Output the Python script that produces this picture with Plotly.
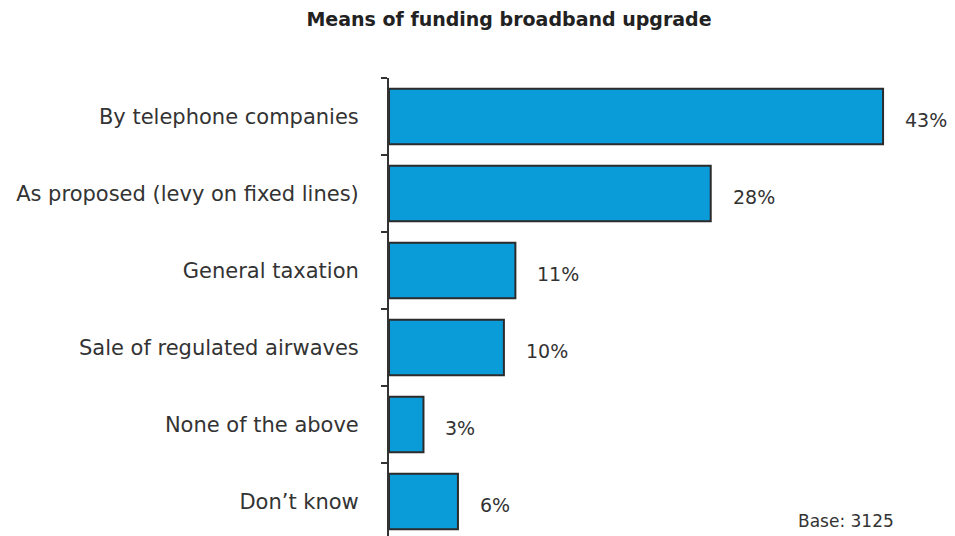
import plotly.graph_objects as go

# Survey responses: preferred means of funding the broadband upgrade
categories = [
    "By telephone companies",
    "As proposed (levy on fixed lines)",
    "General taxation",
    "Sale of regulated airwaves",
    "None of the above",
    "Don\u2019t know",
]
shares = [43, 28, 11, 10, 3, 6]
value_labels = [f"{v}%" for v in shares]
base_note = "Base: 3125"
title_text = "Means of funding broadband upgrade"

FONT = "DejaVu Sans"
TEXT_COLOR = "#333333"
BAR_FILL = "#0A9BD9"
BAR_EDGE = "#2b2b2b"

fig = go.Figure()
fig.add_trace(
    go.Bar(
        x=shares,
        y=categories,
        orientation="h",
        width=0.72,
        marker=dict(color=BAR_FILL, line=dict(color=BAR_EDGE, width=2)),
        hoverinfo="skip",
    )
)

# Value labels to the right of each bar
for cat, v, lab in zip(categories, shares, value_labels):
    fig.add_annotation(
        x=v, y=cat, xref="x", yref="y",
        text=lab, showarrow=False,
        xanchor="left", yanchor="middle", xshift=20, yshift=-3,
        font=dict(family=FONT, size=19, color=TEXT_COLOR),
    )

fig.add_annotation(
    x=0.896, y=0.033, xref="paper", yref="paper",
    text=base_note, showarrow=False,
    xanchor="right", yanchor="middle",
    font=dict(family=FONT, size=17, color=TEXT_COLOR),
)

fig.update_layout(
    width=955,
    height=536,
    margin=dict(l=389, r=0, t=78, b=0),
    paper_bgcolor="white",
    plot_bgcolor="white",
    showlegend=False,
    title=dict(
        text=f"<b>{title_text}</b>",
        x=0.533, xref="container", xanchor="center",
        y=0.963, yref="container", yanchor="middle",
        font=dict(family=FONT, size=19, color="#222222"),
    ),
    font=dict(family=FONT, color=TEXT_COLOR),
)

fig.update_xaxes(
    range=[0, 49.26],
    visible=False,
    showgrid=False,
    zeroline=False,
)
fig.update_yaxes(
    categoryorder="array",
    categoryarray=categories,
    range=[5.448, -0.5],
    showgrid=False,
    zeroline=False,
    showline=True,
    linecolor="#333333",
    linewidth=2,
    ticks="outside",
    tickson="boundaries",
    ticklen=6,
    tickwidth=2,
    tickcolor="#333333",
    ticklabelstandoff=24,
    tickfont=dict(family=FONT, size=21, color=TEXT_COLOR),
)

fig.write_html("out.html")
